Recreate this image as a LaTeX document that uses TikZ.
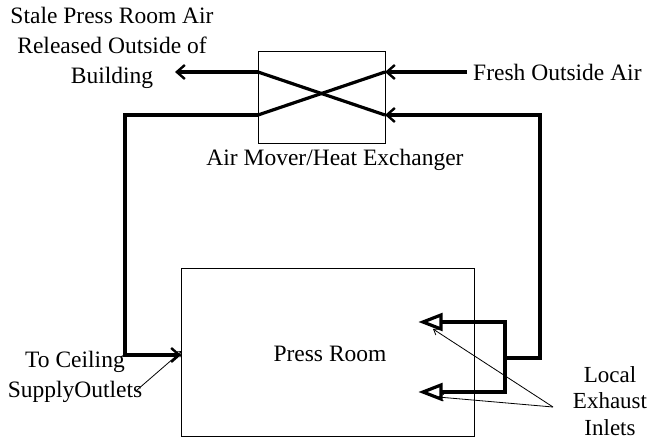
\documentclass[tikz,border=0pt]{standalone}
\usepackage{fontspec}
\setmainfont{Liberation Serif}
\usepackage{tikz}
\usetikzlibrary{positioning,arrows.meta,calc}

\begin{document}
\begin{tikzpicture}[
  x=1pt, y=-1pt,
  box/.style={rectangle, draw, line width=0.9pt, inner sep=0pt},
  pipe/.style={line width=3.2pt},
  arr/.style={pipe, -{Straight Barb[length=8pt,width=14pt,line width=2.4pt]}},
  ptr/.style={line width=0.8pt, -{Straight Barb[length=5pt,width=7pt]}},
  lbl/.style={align=center, font=\fontsize{23.5}{30}\selectfont, inner sep=0pt}
]
\useasboundingbox (0,0) rectangle (651,441);
% boxes
\node[box, minimum width=127pt, minimum height=92pt] (hx) at (321.5,97) {};
\node[box, minimum width=293pt, minimum height=168pt] (room) at (327.5,352) {};
% heat exchanger ports
\coordinate (hxL1) at (258,72); \coordinate (hxL2) at (258,115);
\coordinate (hxR1) at (385,72); \coordinate (hxR2) at (385,115);
\draw[pipe] (hxL1)--(hxR2); \draw[pipe] (hxL2)--(hxR1);
% labels
\node[lbl] (stale) at (112,48) {Stale Press Room Air\\Released Outside of\\Building};
\node[lbl, anchor=west] (fresh) at (473,72) {Fresh Outside Air};
\node[lbl] (hxname) at (335,160) {Air Mover/Heat Exchanger};
\node[lbl] (roomname) at (330,354) {Press Room};
\node[lbl] (ceil) at (75,377) {To Ceiling\\SupplyOutlets};
\node[lbl, font=\fontsize{23}{26.5}\selectfont] (local) at (610,401) {Local\\Exhaust\\Inlets};
% supply side
\coordinate (staleend) at (175,72);
\coordinate (freshstart) at (467,72);
\coordinate (supplyin) at (181,355);
\draw[arr] (hxL1)--(staleend);
\draw[arr] (freshstart)--(hxR1);
\draw[arr] (hxL2)-|(125,355)--(supplyin);
% exhaust side
\coordinate (inletA) at (441,322); \coordinate (inletB) at (441,392);
\draw[pipe, line join=miter] (441,315)--(423,322)--(441,329)--cycle;
\draw[pipe, line join=miter] (441,385)--(423,392)--(441,399)--cycle;
\draw[pipe] (inletA)-|(505,392)--(inletB);
\draw[arr] (505,358)-|(540,115)--(hxR2);
% pointers
\coordinate (ceilptr) at (137,390);
\coordinate (localptr) at (553,407);
\draw[ptr] (ceilptr)--(182,351);
\draw[ptr] (localptr)--(433,329);
\draw[ptr] (localptr)--(438,397);
\end{tikzpicture}
\end{document}
